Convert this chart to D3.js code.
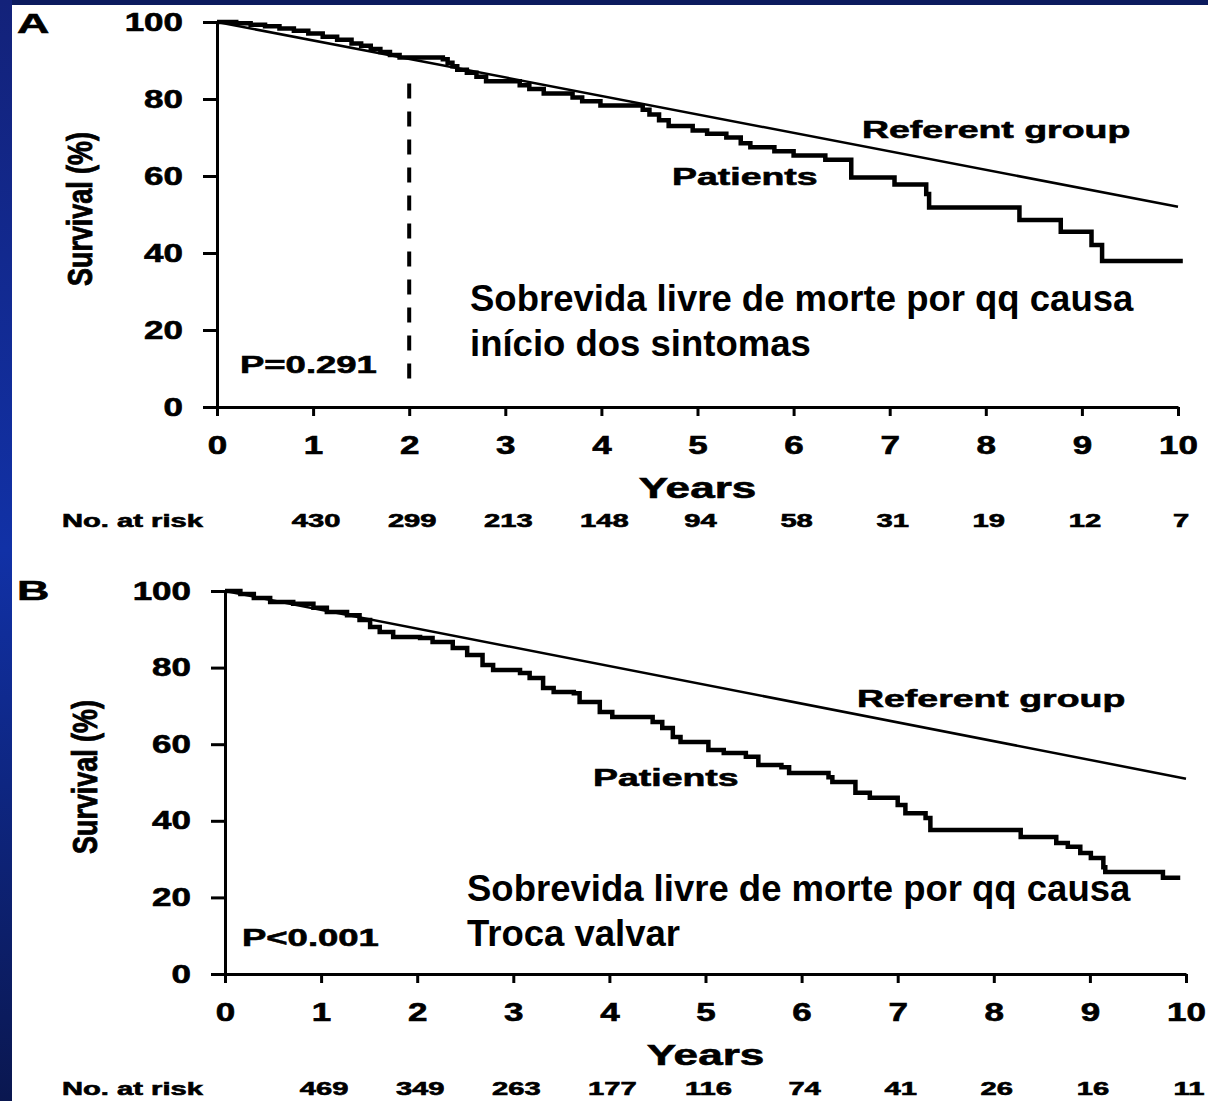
<!DOCTYPE html>
<html><head><meta charset="utf-8">
<script src="https://cdn.jsdelivr.net/npm/d3@7"></script>
<style>
body{margin:0;background:#fff;}
svg{display:block;}
text{font-family:"Liberation Sans",Arial,Helvetica,sans-serif;font-weight:bold;fill:#000;}
.heavy{stroke:#000;stroke-width:0.6px;}
</style>
</head><body>
<svg id="c" width="1208" height="1101"></svg>
<script>
// ---------- DATA ----------
const xTicks = [0,1,2,3,4,5,6,7,8,9,10];
const yTicks = [0,20,40,60,80,100];
const riskYears = [1,2,3,4,5,6,7,8,9,10];
const riskA = [430,299,213,148,94,58,31,19,12,7];
const riskB = [469,349,263,177,116,74,41,26,16,11];

// Kaplan-Meier step points [year, survival %]
const patientsA = [
 [0,100],[0.2,99.7],[0.35,99.3],[0.5,98.9],[0.65,98.3],[0.8,97.7],[0.95,97.0],
 [1.1,96.2],[1.25,95.4],[1.4,94.4],[1.5,93.8],[1.6,93.0],[1.7,92.2],[1.8,91.4],
 [1.9,90.8],[2.35,90.3],[2.4,89.4],[2.45,88.5],[2.5,87.6],[2.6,86.8],[2.7,85.8],
 [2.8,84.6],[3.15,83.6],[3.25,82.6],[3.4,81.4],[3.7,80.4],[3.8,79.4],[3.99,78.3],
 [4.43,77.2],[4.5,76.0],[4.6,74.5],[4.7,73.0],[4.95,71.8],[5.1,71.0],[5.3,70.0],
 [5.45,68.5],[5.55,67.5],[5.8,66.4],[6.0,65.3],[6.33,64.2],[6.6,59.6],[7.05,57.8],
 [7.38,55.3],[7.41,51.8],[8.35,48.6],[8.78,45.5],[9.1,42.1],[9.21,37.9],[10.05,37.9]
];
const referentA = [[0,100],[10,52]];

const patientsB = [
 [0,100],[0.16,99.2],[0.3,98.2],[0.47,97.1],[0.71,96.7],[0.92,95.6],[1.06,94.5],
 [1.27,93.7],[1.4,92.4],[1.51,90.6],[1.61,89.3],[1.75,88.0],[2.03,87.7],[2.16,86.7],
 [2.37,85.1],[2.52,83.3],[2.68,80.7],[2.79,79.4],[3.07,78.6],[3.17,77.3],[3.31,74.7],
 [3.42,73.6],[3.63,73.3],[3.69,71.0],[3.9,68.4],[4.03,67.1],[4.45,65.8],[4.55,64.2],
 [4.66,61.9],[4.74,60.6],[5.03,58.5],[5.19,57.7],[5.42,56.7],[5.55,54.6],[5.79,54.0],
 [5.87,52.5],[6.28,51.4],[6.32,50.1],[6.56,47.3],[6.71,46.0],[7.0,44.1],[7.08,42.0],
 [7.29,40.7],[7.34,37.6],[8.28,35.8],[8.65,34.2],[8.77,33.2],[8.9,31.6],[9.01,30.3],
 [9.14,27.9],[9.16,26.6],[9.76,25.1],[9.94,25.1]
];
const referentB = [[0,100],[10,51]];

const markerA = {year:2, from:7, to:84};

// ---------- LAYOUT ----------
const svg = d3.select('#c');
const defs = svg.append('defs');
const grad = defs.append('linearGradient').attr('id','side').attr('x1',0).attr('y1',0).attr('x2',0).attr('y2',1);
grad.append('stop').attr('offset','0%').attr('stop-color','#13227a');
grad.append('stop').attr('offset','50%').attr('stop-color','#1131a6');
grad.append('stop').attr('offset','100%').attr('stop-color','#0a1750');
svg.append('rect').attr('x',0).attr('y',0).attr('width',1208).attr('height',1101).attr('fill','#fff');
svg.append('rect').attr('x',0).attr('y',0).attr('width',1208).attr('height',5).attr('fill','#0c1b5e');
svg.append('rect').attr('x',0).attr('y',0).attr('width',12).attr('height',1101).attr('fill','url(#side)');

const FS = 24;

function stretchedText(g, x, y, txt, size, sx, anchor){
  return g.append('text').attr('class','heavy')
    .attr('transform',`translate(${x},${y}) scale(${sx},1)`)
    .attr('font-size',size).attr('text-anchor',anchor||'start').text(txt);
}

function panel(cfg){
  const x = d3.scaleLinear().domain([0,10]).range([cfg.x0,cfg.x1]);
  const y = d3.scaleLinear().domain([0,100]).range([cfg.y0,cfg.y1]);
  const g = svg.append('g');

  // axes
  const ya = g.append('g').attr('transform',`translate(${cfg.x0},0)`)
    .call(d3.axisLeft(y).tickValues(yTicks).tickSize(14).tickSizeOuter(0).tickPadding(20));
  const xa = g.append('g').attr('transform',`translate(0,${cfg.y0})`)
    .call(d3.axisBottom(x).tickValues(xTicks).tickSize(9).tickSizeOuter(0).tickPadding(20));
  [ya,xa].forEach(a=>{
    a.selectAll('path.domain').attr('stroke','#000').attr('stroke-width',3);
    a.selectAll('.tick line').attr('stroke','#000').attr('stroke-width',3);
    a.selectAll('.tick text').attr('font-size',25).attr('fill','#000').attr('class','heavy')
      .attr('font-family','"Liberation Sans",Arial,sans-serif').attr('font-weight','bold');
  });
  ya.selectAll('.tick text').each(function(){
    const t=d3.select(this); const xv=+t.attr('x');
    t.attr('x',xv/1.4).attr('transform','scale(1.4,1)');
  });
  xa.selectAll('.tick text').attr('transform','scale(1.4,1)');

  // referent
  const line = d3.line().x(d=>x(d[0])).y(d=>y(d[1]));
  g.append('path').datum(cfg.ref).attr('d',line).attr('fill','none')
    .attr('stroke','#000').attr('stroke-width',2.5);
  // patients
  const step = d3.line().x(d=>x(d[0])).y(d=>y(d[1])).curve(d3.curveStepAfter);
  g.append('path').datum(cfg.pts).attr('d',step).attr('fill','none')
    .attr('stroke','#000').attr('stroke-width',4.5).attr('stroke-linejoin','miter');

  if(cfg.marker){
    g.append('line').attr('x1',x(cfg.marker.year)).attr('x2',x(cfg.marker.year))
      .attr('y1',y(cfg.marker.to)).attr('y2',y(cfg.marker.from))
      .attr('stroke','#000').attr('stroke-width',4).attr('stroke-dasharray','15,13');
  }

  // labels
  stretchedText(g, 17, cfg.letterY, cfg.letter, 28, 1.6);
  g.append('text').attr('class','heavy')
    .attr('transform',`translate(${cfg.ylabX},${cfg.ylabY}) rotate(-90) scale(1.12,1.45)`)
    .attr('font-size',24).attr('text-anchor','middle').text('Survival (%)');
  stretchedText(g, (cfg.x0+cfg.x1)/2, cfg.yearsY, 'Years', 30, 1.47, 'middle');
  stretchedText(g, 62, cfg.riskY, 'No. at risk', 18, 1.62);
  g.selectAll('text.risk').data(cfg.risk).enter().append('text').attr('class','risk heavy')
    .attr('transform',(d,i)=>`translate(${x(riskYears[i])+3},${cfg.riskY}) scale(1.62,1)`)
    .attr('font-size',18).attr('text-anchor','middle').text(d=>d);
  stretchedText(g, cfg.refLab[0], cfg.refLab[1], 'Referent group', FS, 1.56);
  stretchedText(g, cfg.patLab[0], cfg.patLab[1], 'Patients', FS, 1.56);
  stretchedText(g, cfg.pLab[0], cfg.pLab[1], cfg.pText, FS, 1.52);
  g.append('text').attr('x',cfg.note[0]).attr('y',cfg.note[1]).attr('font-size',36.5).text(cfg.note1);
  g.append('text').attr('x',cfg.note[0]).attr('y',cfg.note[1]+45).attr('font-size',36.5).text(cfg.note2);
}

panel({x0:217,x1:1178,y0:407,y1:22,pts:patientsA,ref:referentA,risk:riskA,marker:markerA,
  letter:'A',letterY:33,ylabX:92,ylabY:209,yearsY:498,riskY:527,
  refLab:[862,138],patLab:[672,185],pLab:[240,373],pText:'P=0.291',
  note:[470,311],note1:'Sobrevida livre de morte por qq causa',note2:'início dos sintomas'});
panel({x0:225,x1:1186,y0:974,y1:591,pts:patientsB,ref:referentB,risk:riskB,marker:null,
  letter:'B',letterY:600,ylabX:97,ylabY:777,yearsY:1065,riskY:1095,
  refLab:[857,707],patLab:[593,786],pLab:[242,946],pText:'P<0.001',
  note:[467,901],note1:'Sobrevida livre de morte por qq causa',note2:'Troca valvar'});
</script>
</body></html>
